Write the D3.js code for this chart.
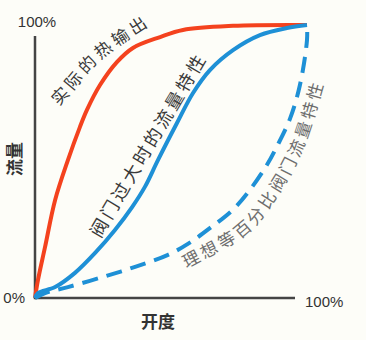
<!DOCTYPE html>
<html><head><meta charset="utf-8">
<script src="https://cdn.jsdelivr.net/npm/d3@7"></script>
<style>
html,body{margin:0;padding:0;background:#fdfdf8;}
svg{display:block;}
</style></head>
<body>
<svg id="chart" width="366" height="340"></svg>
<script>
// ---- data (percent opening -> percent flow) ----
const heatOutput = [[0,0],[1.1,6.6],[3.7,18.7],[7.4,35.9],[12.1,50.5],[16.5,62.6],[19.1,68.9],[23.9,78.0],[30.1,86.4],[36.0,91.6],[46.0,95.6],[54.4,98.2],[72.8,99.7],[100,100]];
const oversizedValve = [[0,0],[1.1,1.8],[7.4,4.0],[14.7,9.2],[22.1,16.5],[29.4,24.9],[35.7,33.3],[40.4,40.7],[45.2,50.5],[52.2,64.1],[58.1,75.1],[64.3,83.5],[72.8,90.8],[82.7,96.3],[92.6,98.9],[100,100]];
const idealEqualPct = [[0,0],[3.7,1.8],[12.1,4.0],[24.6,7.6],[36.8,11.4],[48.9,15.8],[56.5,20.0],[64.3,25.6],[72.8,32.4],[79.0,39.6],[85.3,48.8],[89.0,55.6],[93.8,65.8],[97.4,78.0],[100,94.5],[100,100]];
const seriesNames = ["实际的热输出","阀门过大时的流量特性","理想等百分比阀门流量特性"];
const tickLabels = ["0%","100%"];
const xTitle = "开度";
const yTitle = "流量";

// ---- layout ----
const svg = d3.select("#chart");
const W = 366, H = 340;
svg.append("rect").attr("width",W).attr("height",H).attr("fill","#fdfdf8");
const x = d3.scaleLinear().domain([0,100]).range([35,307]);
const y = d3.scaleLinear().domain([0,100]).range([298,25]);

const axisColor = "#444";
svg.append("line").attr("x1",x(0)).attr("x2",295).attr("y1",y(0)).attr("y2",y(0))
  .attr("stroke",axisColor).attr("stroke-width",2.5);
svg.append("line").attr("x1",x(0)).attr("x2",x(0)).attr("y1",y(0)+1.2).attr("y2",36)
  .attr("stroke",axisColor).attr("stroke-width",2.5);

const sans = "'Liberation Sans', Arial, sans-serif";
svg.append("text").text(tickLabels[1]).attr("x",37).attr("y",27).attr("text-anchor","middle")
  .attr("font-family",sans).attr("font-size",15).attr("fill","#333");
svg.append("text").text(tickLabels[0]).attr("x",25).attr("y",303).attr("text-anchor","end")
  .attr("font-family",sans).attr("font-size",15).attr("fill","#333");
svg.append("text").text(tickLabels[1]).attr("x",305).attr("y",307).attr("text-anchor","start")
  .attr("font-family",sans).attr("font-size",15).attr("fill","#333");

const cjk = "'Noto Sans CJK SC', sans-serif";
svg.append("text").text(xTitle).attr("x",158).attr("y",328).attr("text-anchor","middle")
  .attr("font-family",cjk).attr("font-weight","bold").attr("font-size",17).attr("fill","#333");
svg.append("text").text(yTitle).attr("transform","translate(21,159) rotate(-90)").attr("text-anchor","middle")
  .attr("font-family",cjk).attr("font-weight","bold").attr("font-size",17).attr("fill","#333");

// curves
const line = d3.line().x(d=>x(d[0])).y(d=>y(d[1])).curve(d3.curveCatmullRom.alpha(0.5));
svg.append("path").attr("d",line(heatOutput)).attr("fill","none")
  .attr("stroke","#f4421e").attr("stroke-width",4);
svg.append("path").attr("d",line(oversizedValve)).attr("fill","none")
  .attr("stroke","#1e90d6").attr("stroke-width",4);
svg.append("path").attr("d",line(idealEqualPct)).attr("fill","none")
  .attr("stroke","#1e90d6").attr("stroke-width",4).attr("stroke-dasharray","16,9");

// label guides (annotation placement, in chart units)
const guides = [
  [[6.8,68.6],[8.3,70.0],[12.1,73.8],[24.3,87.4],[39.0,97.8],[43.5,100.6],[45.0,101.6]],
  [[22.2,18.6],[65.3,91.2]],
  [[50.5,7.8],[52.6,9.0],[57.4,11.7],[78.7,24.2],[91.2,40.7],[98.9,55.7],[105.8,77.3],[107.2,82.4],[107.9,85.0]]
];
const labelStyle = [
  {size:17, ls:3.7, fill:"#3a3a3a"},
  {size:18, ls:3.1, fill:"#3a3a3a"},
  {size:17, ls:3.2, fill:"#6e6e6e"}
];
const defs = svg.append("defs");
guides.forEach((g,i)=>{
  defs.append("path").attr("id","guide"+i).attr("d",line(g));
  const st = labelStyle[i];
  svg.append("text").attr("font-family",cjk).attr("font-size",st.size)
    .attr("letter-spacing",st.ls).attr("fill",st.fill)
    .append("textPath").attr("href","#guide"+i).attr("startOffset","50%")
    .attr("text-anchor","middle").text(seriesNames[i]);
});
</script>
</body></html>
